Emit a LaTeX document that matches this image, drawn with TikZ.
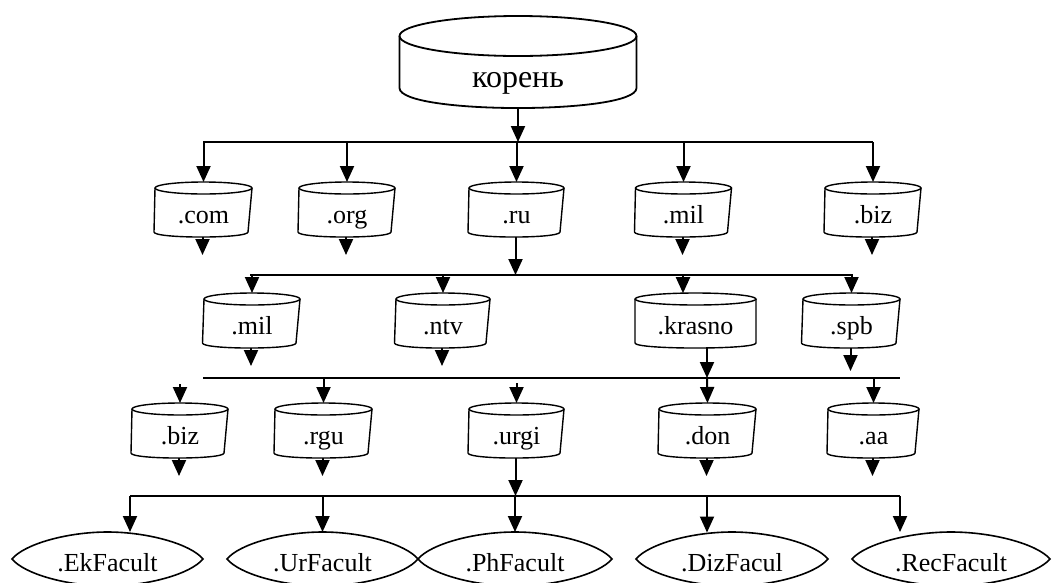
\documentclass[tikz,border=0pt]{standalone}
\usepackage{fontspec}
\setmainfont{Liberation Serif}
\usetikzlibrary{arrows.meta,calc}
\tikzset{
  cylline/.style={line width=1.4pt},
  rootline/.style={line width=1.8pt},
  lensline/.style={line width=1.6pt},
  conn/.style={line width=2pt},
  arr/.style={line width=2pt,-{Triangle[width=14pt,length=16pt]}},
  lbl/.style={inner sep=0pt,font=\fontsize{26}{30}\selectfont},
  rootlbl/.style={inner sep=0pt,font=\fontsize{32}{36}\selectfont}
}
% #1 name, #2 cx, #3 top-ellipse centre y, #4 half width, #5 text, #6 left shift, #7 right inset
\newcommand\mycyl[7]{%
  \draw[cylline] (#2,#3) ellipse [x radius=#4, y radius=6];
  \draw[cylline] (#2-#4,#3) -- (#2-#4-#6,#3+44)
     .. controls (#2-#4-#6,#3+50.7) and (#2+#4-#7,#3+50.7) .. (#2+#4-#7,#3+44) -- (#2+#4,#3);
  \node[lbl,anchor=base] (#1) at (#2,#3+35) {#5};
  \coordinate (#1-t) at (#2,#3-6);
  \coordinate (#1-b) at (#2-1,#3+49);
}
% #1 name, #2 cx, #3 cy, #4 half width, #5 text
\newcommand\mylens[5]{%
  \draw[lensline] (#2-#4,#3)
    .. controls (#2-0.87*#4,#3-15) and (#2-0.42*#4,#3-27) .. (#2,#3-27)
    .. controls (#2+0.42*#4,#3-27) and (#2+0.87*#4,#3-15) .. (#2+#4,#3)
    .. controls (#2+0.87*#4,#3+15) and (#2+0.42*#4,#3+27) .. (#2,#3+27)
    .. controls (#2-0.42*#4,#3+27) and (#2-0.87*#4,#3+15) .. cycle;
  \node[lbl,anchor=base] (#1) at (#2,#3+12) {#5};
  \coordinate (#1-t) at (#2,#3-27);
}
\begin{document}
\begin{tikzpicture}[x=1pt,y=-1pt]
\useasboundingbox (0,0) rectangle (1057,582);
% root
\draw[rootline] (518,36) ellipse [x radius=118.5, y radius=20];
\draw[rootline] (399.5,36) -- (399.5,88) .. controls (399.5,114.7) and (636.5,114.7) .. (636.5,88) -- (636.5,36);
\node[rootlbl,anchor=base] (root) at (518,87) {корень};
\coordinate (root-b) at (518,108);
% row 1
\mycyl{com}{203.5}{188}{48.5}{.com}{1}{4}
\mycyl{org}{347}{188}{48}{.org}{1}{4}
\mycyl{ru}{516.5}{188}{47.5}{.ru}{1}{4}
\mycyl{mila}{683.5}{188}{48}{.mil}{1}{4}
\mycyl{biza}{873}{188}{48}{.biz}{1}{4}
% row 2
\mycyl{milb}{252}{299}{48}{.mil}{1.5}{4}
\mycyl{ntv}{443}{299}{47}{.ntv}{1.5}{4}
\mycyl{krasno}{695.5}{299}{60.5}{.krasno}{0}{0}
\mycyl{spb}{851.5}{299}{48.5}{.spb}{1.5}{4}
% row 3
\mycyl{bizb}{180}{409}{48}{.biz}{1}{4}
\mycyl{rgu}{323.5}{409}{48.5}{.rgu}{1}{4}
\mycyl{urgi}{516.5}{409}{47.5}{.urgi}{1}{4}
\mycyl{don}{707.5}{409}{48.5}{.don}{1}{4}
\mycyl{aa}{873.5}{409}{45.5}{.aa}{1}{4}
% bottom
\mylens{ek}{107.5}{559}{95.5}{.EkFacult}
\mylens{ur}{322.5}{559}{95.5}{.UrFacult}
\mylens{ph}{515}{559}{97}{.PhFacult}
\mylens{diz}{732}{559}{96}{.DizFacul}
\mylens{rec}{951}{559}{99}{.RecFacult}
% level 1 bus
\coordinate (l1a) at (203,142);
\coordinate (l1b) at (873,142);
\draw[conn] (l1a) -- (l1b);
\draw[arr] (root-b) -- (root-b |- l1a);
\foreach \n in {com,org,ru,mila,biza} \draw[arr] (\n-t |- l1a) -- (\n-t);
\foreach \n in {com,org,mila,biza} \draw[arr] (\n-b) -- ++(0,18);
% level 2 bus
\coordinate (l2a) at (250,275);
\coordinate (l2b) at (853,275);
\draw[conn] (l2a) -- (l2b);
\draw[arr] (ru-b) -- (ru-b |- l2a);
\foreach \n in {milb,ntv,spb} \draw[arr] (\n-t |- l2a) -- (\n-t);
\coordinate (krasno-in) at (683,293.2);
\draw[arr] (krasno-in |- l2a) -- (krasno-in);
\foreach \n in {milb,ntv} \draw[arr] (\n-b) -- ++(0,18);
\draw[arr] (spb-b) -- ++(0,23);
% level 3 bus
\coordinate (l3a) at (203,378);
\coordinate (l3b) at (900,378);
\draw[conn] (l3a) -- (l3b);
\coordinate (krasno-out) at (707,347);
\draw[arr] (krasno-out) -- (krasno-out |- l3a);
\draw[arr] (krasno-out |- l3a) -- (don-t);
\coordinate (bizb-in) at (180,384);
\draw[arr] (bizb-in) -- (bizb-t);
\coordinate (urgi-in) at (516.5,383);
\draw[arr] (urgi-in) -- (urgi-t);
\foreach \n in {rgu,aa} \draw[arr] (\n-t |- l3a) -- (\n-t);
\foreach \n in {bizb,rgu,don,aa} \draw[arr] (\n-b) -- ++(0,18);
% level 4 bus
\coordinate (l4a) at (130,496);
\coordinate (l4b) at (900,496);
\draw[conn] (l4a) -- (l4b);
\draw[arr] (urgi-b) -- (urgi-b |- l4a);
\draw[arr] (l4a) -- (l4a |- ek-t);
\draw[arr] (ur-t |- l4a) -- (ur-t);
\draw[arr] (ph-t |- l4a) -- (ph-t);
\coordinate (diz-in) at (707,532.5);
\draw[arr] (diz-in |- l4a) -- (diz-in);
\draw[arr] (l4b) -- (l4b |- rec-t);
\end{tikzpicture}
\end{document}
